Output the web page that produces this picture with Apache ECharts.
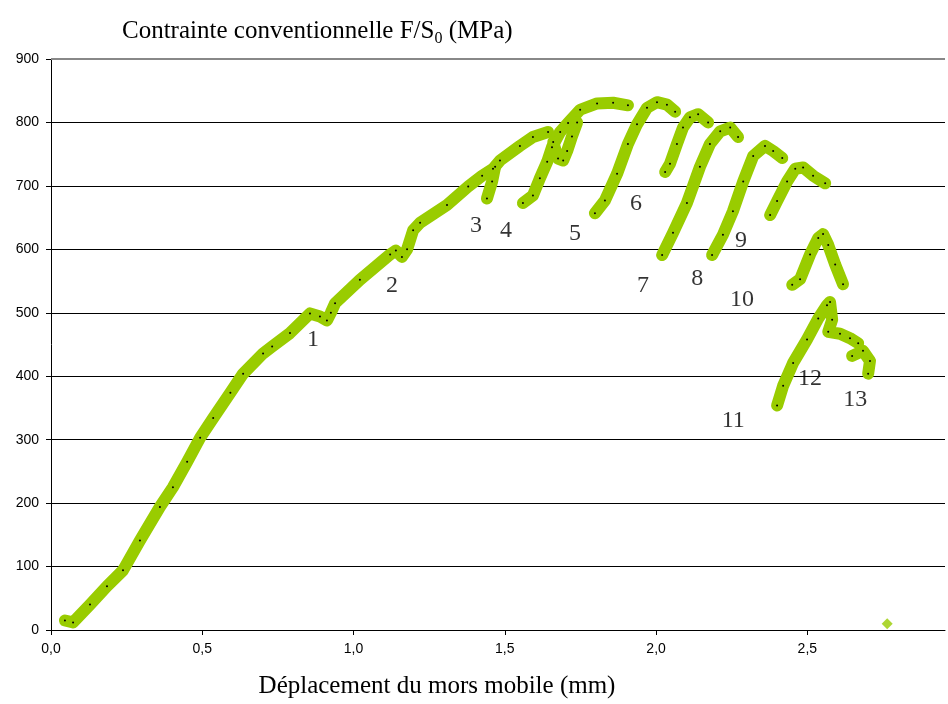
<!DOCTYPE html>
<html><head><meta charset="utf-8">
<script src="https://cdn.jsdelivr.net/npm/echarts@6/dist/echarts.min.js"></script>
<style>html,body{margin:0;padding:0;background:#fff}#c{width:948px;height:704px}</style>
</head><body><div id="c"></div>
<script>
// Data: [displacement (mm), stress (MPa)]
const mainCurve = [[0.046,15],[0.073,12],[0.129,40],[0.185,69],[0.238,94],[0.294,141],[0.360,194],[0.403,225],[0.450,265],[0.493,303],[0.536,334],[0.593,374],[0.635,404],[0.701,436],[0.731,447],[0.790,468],[0.856,499],[0.889,494],[0.912,488],[0.925,500],[0.939,515],[1.021,552],[1.121,592],[1.140,598],[1.160,588],[1.177,600],[1.197,630],[1.22,642],[1.309,670],[1.379,699],[1.425,716],[1.461,727],[1.484,740],[1.55,763],[1.593,777],[1.643,785]];
const hook3 = [[1.468,730],[1.458,707],[1.441,680]];
const seg4 = [[1.56,673],[1.593,685],[1.616,712],[1.64,738],[1.656,761],[1.683,785],[1.709,799],[1.749,820],[1.805,830],[1.858,831],[1.907,827]];
const loop5 = [[1.66,769],[1.676,743],[1.693,740],[1.706,755],[1.722,778],[1.739,800]];
const seg5 = [[1.798,657],[1.831,677],[1.871,719],[1.907,766],[1.937,797],[1.97,823],[2.003,832],[2.036,828],[2.063,817]];
const seg6 = [[2.03,722],[2.046,735],[2.069,766],[2.089,792],[2.112,808],[2.139,813],[2.172,800]];
const seg7 = [[2.02,591],[2.056,626],[2.102,673],[2.145,730],[2.178,766],[2.212,786],[2.245,792],[2.271,777]];
const seg8 = [[2.185,591],[2.221,623],[2.254,660],[2.288,707],[2.321,747],[2.36,763],[2.387,755],[2.417,744]];
const seg9 = [[2.377,654],[2.4,676],[2.433,707],[2.46,727],[2.486,729],[2.519,716],[2.559,704]];
const seg10 = [[2.45,544],[2.476,553],[2.509,592],[2.536,618],[2.552,624],[2.569,607],[2.592,576],[2.618,545]];
const seg11 = [[2.4,354],[2.42,385],[2.453,421],[2.499,458],[2.536,491],[2.565,512],[2.575,517],[2.582,489],[2.569,470],[2.608,467],[2.641,460],[2.668,452]];
const seg13 = [[2.648,432],[2.684,440],[2.707,424],[2.701,404]];
const lonePoint = [[2.764,10]];
const segments = [mainCurve, hook3, seg4, loop5, seg5, seg6, seg7, seg8, seg9, seg10, seg11, seg13];
// cycle number annotations: [x, y, text]
const cycleLabels = [[0.866,458,'1'],[1.127,543,'2'],[1.405,637,'3'],[1.504,629,'4'],[1.732,624,'5'],[1.934,672,'6'],[1.957,543,'7'],[2.136,554,'8'],[2.281,613,'9'],[2.284,520,'10'],[2.255,330,'11'],[2.509,396,'12'],[2.658,363,'13']];
const yTop = 900;

const GREEN = '#99cc00';
const serif = '"Liberation Serif","Times New Roman",serif';
const sans = '"Liberation Sans",Arial,sans-serif';

const series = segments.map(d => ({
  type: 'line', data: d, showSymbol: true, symbol: 'circle', symbolSize: 2,
  itemStyle: {color: '#000'}, lineStyle: {color: GREEN, width: 12, cap: 'round', join: 'round'},
  emphasis: {disabled: true}, z: 3, silent: true
}));
series.push({
  type: 'scatter', data: lonePoint, symbol: 'diamond', symbolSize: 11,
  itemStyle: {color: GREEN}, z: 3, silent: true
});
series.push({
  type: 'scatter', data: cycleLabels, symbolSize: 0, silent: true, z: 5,
  label: {show: true, position: 'inside', formatter: p => p.value[2], color: '#000', fontFamily: serif, fontSize: 24}
});
series.push({
  type: 'line', data: [], silent: true,
  markLine: {symbol: 'none', silent: true, label: {show: false}, lineStyle: {color: '#888', width: 2, type: 'solid'}, data: [{yAxis: yTop}]}
});

const chart = echarts.init(document.getElementById('c'), null, {renderer: 'canvas'});
chart.setOption({
  animation: false,
  backgroundColor: '#fff',
  title: {
    left: 117, top: 14,
    text: '{a|Contrainte conventionnelle F/S}{s|0}{a| (MPa)}',
    textStyle: {fontWeight: 'normal', rich: {
      a: {fontFamily: serif, fontSize: 25, fontWeight: 'normal', color: '#000', lineHeight: 28, verticalAlign: 'top'},
      s: {fontFamily: serif, fontSize: 16, fontWeight: 'normal', color: '#000', lineHeight: 15, verticalAlign: 'bottom'}
    }}
  },
  grid: {left: 51, right: 3, top: 59, bottom: 66, containLabel: false},
  xAxis: {
    type: 'value', min: 0, max: 2.955, interval: 0.5,
    name: 'Déplacement du mors mobile (mm)', nameLocation: 'middle', nameGap: 44,
    nameTextStyle: {fontFamily: serif, fontSize: 25, color: '#000', padding: [0, 122, 0, 0]},
    axisLine: {lineStyle: {color: '#000', width: 1}},
    axisTick: {show: true, length: 5, lineStyle: {color: '#000'}},
    axisLabel: {margin: 12, fontFamily: sans, fontSize: 14, color: '#000', showMaxLabel: false,
      formatter: v => v.toFixed(1).replace('.', ',')},
    splitLine: {show: false}
  },
  yAxis: {
    type: 'value', min: 0, max: 900, interval: 100,
    axisLine: {show: true, lineStyle: {color: '#000', width: 1}},
    axisTick: {show: true, length: 5, lineStyle: {color: '#000'}},
    axisLabel: {margin: 12, fontFamily: sans, fontSize: 14, color: '#000'},
    splitLine: {show: true, lineStyle: {color: '#000', width: 1}}
  },
  series: series
});
</script></body></html>
